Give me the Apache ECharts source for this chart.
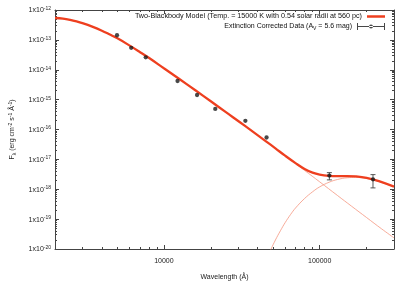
<!DOCTYPE html>
<html>
<head>
<meta charset="utf-8">
<script src="https://cdn.jsdelivr.net/npm/echarts@6/dist/echarts.min.js"></script>
<style>html,body{margin:0;padding:0;background:#fff}#c{width:407px;height:286px}</style>
</head>
<body>
<div id="c"></div>
<script>
// ---- data ----
const hotWl   = [2000, 2250, 2500, 2750, 3000, 3500, 4000, 4500, 5000, 6000, 7000, 8000, 10000, 12500, 16000, 20000, 25000, 33000, 45000, 60000, 80000, 100000, 130000, 160000, 200000, 250000, 300000];
const hotFlux = [5.4e-13, 5.14e-13, 4.68e-13, 4.16e-13, 3.64e-13, 2.72e-13, 2.03e-13, 1.51e-13, 1.15e-13, 6.55e-14, 3.95e-14, 2.51e-14, 1.12e-14, 5.0e-15, 2.02e-15, 8.8e-16, 3.81e-16, 1.35e-16, 4.1e-17, 1.32e-17, 4.27e-18, 1.77e-18, 6.2e-19, 2.72e-19, 1.13e-19, 4.7e-20, 2.36e-20];

const coldWl   = [47000, 48800, 52000, 56000, 60000, 65000, 70000, 80000, 90000, 100000, 115000, 130000, 150000, 170000, 200000, 240000, 300000];
const coldFlux = [6.0e-21, 1.0e-20, 2.0e-20, 4.1e-20, 7.6e-20, 1.42e-19, 2.36e-19, 4.9e-19, 8.2e-19, 1.2e-18, 1.72e-18, 2.12e-18, 2.42e-18, 2.48e-18, 2.3e-18, 1.82e-18, 1.2e-18];

const totalWl   = [2000, 2250, 2500, 2750, 3000, 3500, 4000, 4500, 5000, 6000, 7000, 8000, 10000, 12500, 16000, 20000, 25000, 33000, 45000, 52000, 60000, 70000, 80000, 90000, 100000, 115000, 130000, 150000, 170000, 200000, 240000, 300000];
const totalFlux = [5.4e-13, 5.14e-13, 4.68e-13, 4.16e-13, 3.64e-13, 2.72e-13, 2.03e-13, 1.51e-13, 1.15e-13, 6.55e-14, 3.95e-14, 2.51e-14, 1.12e-14, 5.0e-15, 2.02e-15, 8.8e-16, 3.81e-16, 1.35e-16, 4.1e-17, 2.34e-17, 1.33e-17, 7.5e-18, 4.8e-18, 3.6e-18, 3.1e-18, 2.82e-18, 2.76e-18, 2.77e-18, 2.7e-18, 2.41e-18, 1.88e-18, 1.22e-18];

const obsWl   = [5000, 6170, 7650, 12240, 16330, 21370, 33340, 45600, 115400, 219900];
const obsFlux = [1.43e-13, 5.4e-14, 2.6e-14, 4.2e-15, 1.43e-15, 4.9e-16, 1.95e-16, 5.4e-17, 2.86e-18, 2.15e-18];
const errWl   = [115400, 219900];
const errLow  = [2.06e-18, 1.11e-18];
const errHigh = [3.6e-18, 3.09e-18];

const xMajor = [10000, 100000];
const xMinor = [2000, 3000, 4000, 5000, 6000, 7000, 8000, 9000, 20000, 30000, 40000, 50000, 60000, 70000, 80000, 90000, 200000, 300000];
const yMajor = [1e-20, 1e-19, 1e-18, 1e-17, 1e-16, 1e-15, 1e-14, 1e-13, 1e-12];
const yMinor = [];
yMajor.slice(0, -1).forEach(d => { for (let k = 2; k <= 9; k++) yMinor.push(+(d * k).toPrecision(3)); });

const modelName = 'Two-Blackbody Model (Temp. = 15000 K with 0.54 solar radii at 560 pc)';
const dataName = 'Extinction Corrected Data (AV = 5.6 mag)';

const zip = (a, b) => a.map((v, i) => [v, b[i]]);
const FONT = 'Liberation Sans, Arial, Helvetica, sans-serif';
const AX = '#444';
const THICK = '#ee3f1f';
const THIN = '#f5957f';

function xAx(pos, major, show) {
  return {
    type: 'log', logBase: 10, min: 2000, max: 300000, position: pos,
    axisLine: { show: show, onZero: false, lineStyle: { color: AX, width: 1 } },
    axisTick: { show: true, inside: true, length: major ? 4 : 2, customValues: major ? xMajor : xMinor, lineStyle: { color: AX } },
    axisLabel: { show: false },
    splitLine: { show: false }, minorTick: { show: false }, minorSplitLine: { show: false }
  };
}
function yAx(pos, major, show) {
  return {
    type: 'log', logBase: 10, min: 1e-20, max: 1e-12, position: pos,
    axisLine: { show: show, onZero: false, lineStyle: { color: AX, width: 1 } },
    axisTick: { show: true, inside: true, length: major ? 4 : 2, customValues: major ? yMajor : yMinor, lineStyle: { color: AX } },
    axisLabel: { show: false },
    splitLine: { show: false }, minorTick: { show: false }, minorSplitLine: { show: false }
  };
}

const xMain = xAx('bottom', true, true);
xMain.axisLabel = { show: true, customValues: xMajor, margin: 9, fontSize: 7, color: '#222', fontFamily: FONT, formatter: v => String(Math.round(v)) };
xMain.name = 'Wavelength (Å)';
xMain.nameLocation = 'middle';
xMain.nameGap = 25;
xMain.nameTextStyle = { fontSize: 7, color: '#222', fontFamily: FONT };

const yMain = yAx('left', true, true);
yMain.axisLabel = {
  show: true, customValues: yMajor, margin: 4, fontSize: 7, color: '#222', fontFamily: FONT,
  formatter: v => '{b|1x10}{s|' + Math.round(Math.log10(v)) + '}',
  rich: {
    b: { fontSize: 7, fontFamily: FONT, color: '#222', verticalAlign: 'bottom' },
    s: { fontSize: 5, fontFamily: FONT, color: '#222', verticalAlign: 'bottom', padding: [0, 0, 3, 0] }
  }
};
yMain.name = '{b|F}{sb|λ}{b| (erg cm}{s|-2}{b| s}{s|-1}{b| Å}{s|-1}{b|)}';
yMain.nameLocation = 'middle';
yMain.nameGap = 39;
yMain.nameTextStyle = {
  fontSize: 7, color: '#222', fontFamily: FONT,
  rich: {
    b: { fontSize: 7, fontFamily: FONT, color: '#222', verticalAlign: 'bottom' },
    s: { fontSize: 5, fontFamily: FONT, color: '#222', verticalAlign: 'bottom', padding: [0, 0, 3, 0] },
    sb: { fontSize: 5, fontFamily: FONT, color: '#222', verticalAlign: 'bottom', padding: [0, 0, -1, 0] }
  }
};

const option = {
  animation: false,
  backgroundColor: '#fff',
  grid: { left: 52, right: 13, top: 10, bottom: 35 },
  xAxis: [xMain, xAx('bottom', false, false), xAx('top', true, true), xAx('top', false, false)],
  yAxis: [yMain, yAx('left', false, false), yAx('right', true, true), yAx('right', false, false)],
  legend: [
    {
      data: [{ name: modelName, icon: 'rect' }],
      right: 22, top: 13, align: 'right', orient: 'vertical', padding: 0,
      itemWidth: 18, itemHeight: 2.5, itemGap: 2,
      textStyle: { fontSize: 7.2, color: '#111', fontFamily: FONT },
      selectedMode: false
    },
    {
      data: [{ name: dataName, icon: 'path://M0,3h28v1h-28z M0,0h1v7h-1z M27,0h1v7h-1z M12,3.5a2,2 0 1,0 4,0a2,2 0 1,0 -4,0z' }],
      right: 22, top: 23, align: 'right', orient: 'vertical', padding: 0,
      itemWidth: 28, itemHeight: 7, itemGap: 2,
      formatter: () => '{t|Extinction Corrected Data (A}{sb|V}{t| = 5.6 mag)}',
      textStyle: {
        fontSize: 7, color: '#111', fontFamily: FONT,
        rich: {
          t: { fontSize: 7, fontFamily: FONT, color: '#111', verticalAlign: 'bottom' },
          sb: { fontSize: 5, fontFamily: FONT, color: '#111', verticalAlign: 'bottom', padding: [0, 0, -1, 0] }
        }
      },
      selectedMode: false
    }
  ],
  series: [
    {
      type: 'line', name: 'hot', data: zip(hotWl, hotFlux), smooth: 0.4, showSymbol: false,
      lineStyle: { color: THIN, width: 0.8 }, z: 1, silent: true
    },
    {
      type: 'line', name: 'cold', data: zip(coldWl, coldFlux), smooth: 0.4, showSymbol: false,
      lineStyle: { color: THIN, width: 0.8 }, z: 1, silent: true
    },
    {
      type: 'line', name: modelName, data: zip(totalWl, totalFlux), smooth: 0.4, showSymbol: false,
      color: THICK, itemStyle: { color: THICK },
      lineStyle: { color: THICK, width: 2.3 }, z: 2
    },
    {
      type: 'custom', name: 'err', data: errWl.map((w, i) => [w, errLow[i], errHigh[i]]),
      encode: { x: 0, y: [1, 2] }, z: 3,
      renderItem: (params, api) => {
        const a = api.coord([api.value(0), api.value(1)]);
        const b = api.coord([api.value(0), api.value(2)]);
        const st = { stroke: '#444', lineWidth: 0.9 };
        return {
          type: 'group', children: [
            { type: 'line', shape: { x1: a[0], y1: a[1], x2: b[0], y2: b[1] }, style: st },
            { type: 'line', shape: { x1: a[0] - 2.5, y1: a[1], x2: a[0] + 2.5, y2: a[1] }, style: st },
            { type: 'line', shape: { x1: b[0] - 2.5, y1: b[1], x2: b[0] + 2.5, y2: b[1] }, style: st }
          ]
        };
      }
    },
    {
      type: 'scatter', name: dataName, data: zip(obsWl, obsFlux), symbol: 'circle', symbolSize: 4.3,
      color: '#222', itemStyle: { color: '#1a1a1a' }, z: 4
    }
  ]
};
const chart = echarts.init(document.getElementById('c'), null, { renderer: 'canvas' });
chart.setOption(option);
</script>
</body>
</html>
